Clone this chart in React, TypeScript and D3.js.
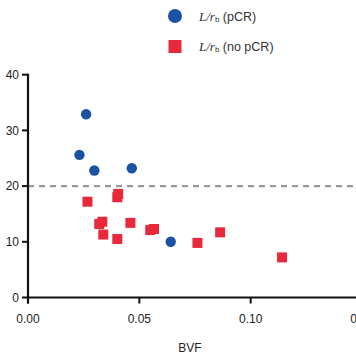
import React from "react";
import * as d3 from "d3";

const pcrBVF = [0.0261, 0.0231, 0.0298, 0.0466, 0.0641];
const pcrLrb = [32.9, 25.6, 22.8, 23.2, 10.0];
const noPcrBVF = [0.0267, 0.0401, 0.0405, 0.032, 0.0334, 0.0338, 0.0401, 0.046, 0.0549, 0.0566, 0.0761, 0.0863, 0.1141];
const noPcrLrb = [17.2, 18.0, 18.6, 13.2, 13.6, 11.3, 10.5, 13.4, 12.1, 12.3, 9.8, 11.7, 7.2];
const xTicks = [0, 0.05, 0.1, 0.15];
const yTicks = [0, 10, 20, 30, 40];
const threshold = 20;

const W = 356, H = 364;
const font = "Liberation Sans, Arial, sans-serif";

export default function App() {
  const x = d3.scaleLinear().domain([0, 0.15]).range([28, 362]);
  const y = d3.scaleLinear().domain([0, 40]).range([297.5, 74.7]);
  const blue = "#1c52a3";
  const red = "#e8283b";
  const sq = 10;
  return (
    <svg width={W} height={H} style={{ position: "absolute", left: 0, top: 0, background: "#fff" }}>
      {/* legend */}
      <circle cx={175} cy={16} r={7} fill={blue} />
      <text x={199} y={20.5} fontSize={12.5} fontFamily={font} fill="#333">
        <tspan fontFamily="Liberation Serif, serif" fontStyle="italic" fontSize={13}>L/r</tspan>
        <tspan fontSize={8} dy={1}>b</tspan>
        <tspan dy={-1}> (pCR)</tspan>
      </text>
      <rect x={168.5} y={40} width={13} height={13} fill={red} />
      <text x={199} y={51} fontSize={12.5} fontFamily={font} fill="#333">
        <tspan fontFamily="Liberation Serif, serif" fontStyle="italic" fontSize={13}>L/r</tspan>
        <tspan fontSize={8} dy={1}>b</tspan>
        <tspan dy={-1}> (no pCR)</tspan>
      </text>

      {/* dashed threshold */}
      <line x1={x(0)} x2={W} y1={y(threshold)} y2={y(threshold)} stroke="#9a9a9a" strokeWidth={2.3} strokeDasharray="6,5" />

      {/* axes */}
      <line x1={x(0)} x2={W} y1={y(0)} y2={y(0)} stroke="#111" strokeWidth={2.2} />
      <line x1={x(0)} x2={x(0)} y1={y(40) - 1} y2={y(0) + 6} stroke="#111" strokeWidth={2.2} />
      {yTicks.map((t) => (
        <g key={"y" + t}>
          <line x1={x(0) - 6} x2={x(0)} y1={y(t)} y2={y(t)} stroke="#111" strokeWidth={2} />
          <text x={x(0) - 9} y={y(t)} dy="0.35em" textAnchor="end" fontSize={12} fontFamily={font} fill="#222">
            {t}
          </text>
        </g>
      ))}
      {xTicks.map((t) => (
        <g key={"x" + t}>
          <line x1={x(t)} x2={x(t)} y1={y(0)} y2={y(0) + 6} stroke="#111" strokeWidth={2} />
          <text x={x(t)} y={y(0) + 25} textAnchor="middle" fontSize={12} fontFamily={font} fill="#222">
            {d3.format(".2f")(t)}
          </text>
        </g>
      ))}
      <text x={190} y={352} textAnchor="middle" fontSize={12} fontFamily={font} fill="#222">BVF</text>

      {/* data */}
      {noPcrBVF.map((v, i) => (
        <rect key={"r" + i} x={x(v) - sq / 2} y={y(noPcrLrb[i]) - sq / 2} width={sq} height={sq} fill={red} />
      ))}
      {pcrBVF.map((v, i) => (
        <circle key={"c" + i} cx={x(v)} cy={y(pcrLrb[i])} r={5.2} fill={blue} />
      ))}
    </svg>
  );
}
